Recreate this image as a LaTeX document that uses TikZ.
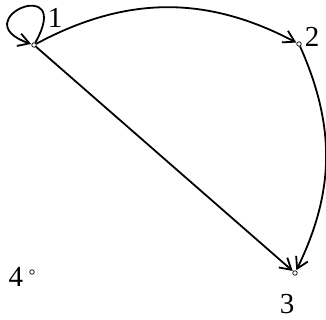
\documentclass[tikz,border=0pt]{standalone}
\usepackage{fontspec}
\setmainfont{Liberation Serif}
\usetikzlibrary{arrows.meta}

\tikzset{
  vert/.style={circle, draw, line width=0.7pt, fill=white, inner sep=0pt, minimum size=4.5pt},
  lab/.style={inner sep=0pt, font=\fontsize{29}{32}\selectfont},
  arr/.style={line width=1.8pt, -{Straight Barb[length=11pt, width=13pt, line width=1.8pt]}, shorten >=0.5pt}
}

\begin{document}
\begin{tikzpicture}[x=1pt,y=1pt]
\useasboundingbox (0,0) rectangle (326,320);
% vertices
\node[vert] (v1) at (34,275) {};
\node[vert] (v2) at (299,276) {};
\node[vert] (v3) at (295,47) {};
\node[vert] (v4) at (32,48) {};
% labels
\node[lab] (l1) at (55,302) {1};
\node[lab] (l2) at (312,283) {2};
\node[lab] (l3) at (287,16) {3};
\node[lab] (l4) at (16,43) {4};
% arcs
\draw[arr] (v1) .. controls (75,348) and (-38,300) .. (v1);
\draw[arr] (v1) to[bend left=28] (v2);
\draw[arr] (v2) to[bend left=25] (v3);
\draw[arr] (v1) -- (v3);
\end{tikzpicture}
\end{document}
